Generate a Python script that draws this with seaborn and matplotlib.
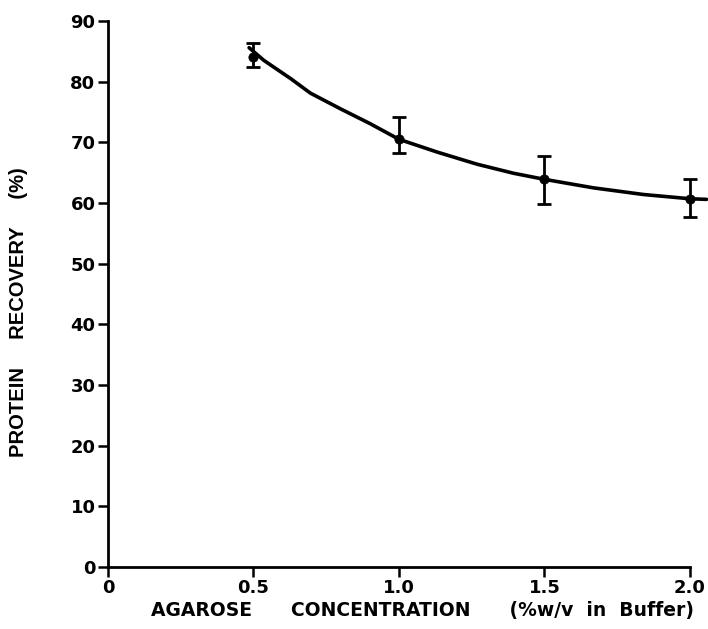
import numpy as np
import pandas as pd
import seaborn as sns
import matplotlib.pyplot as plt

# Data
conc = [0.5, 1.0, 1.5, 2.0]
recovery = [84.1, 70.5, 63.9, 60.7]
err_low = [82.4, 68.2, 59.8, 57.7]
err_high = [86.3, 74.1, 67.7, 63.9]

# Hand-drawn smooth curve
curve_x = [0.485, 0.536, 0.628, 0.696, 0.80, 0.90, 1.0, 1.131, 1.268, 1.394,
           1.5, 1.668, 1.84, 2.0, 2.057]
curve_y = [85.6, 83.5, 80.5, 78.1, 75.5, 73.1, 70.5, 68.4, 66.4, 64.9,
           63.9, 62.5, 61.4, 60.7, 60.6]

x_ticks = [0, 0.5, 1.0, 1.5, 2.0]
x_tick_labels = ['0', '0.5', '1.0', '1.5', '2.0']
y_ticks = [0, 10, 20, 30, 40, 50, 60, 70, 80, 90]

df_pts = pd.DataFrame({'conc': conc, 'recovery': recovery})
df_curve = pd.DataFrame({'x': curve_x, 'y': curve_y})

sns.set_style('ticks', {'axes.edgecolor': 'black', 'xtick.color': 'black',
                        'ytick.color': 'black', 'text.color': 'black',
                        'axes.labelcolor': 'black'})
plt.rcParams['font.family'] = ['DejaVu Sans']

fig = plt.figure(figsize=(7.08, 6.29), dpi=100)
ax = fig.add_axes([0.1525, 0.0986, 0.822, 0.868])

sns.lineplot(data=df_curve, x='x', y='y', ax=ax, color='black', linewidth=2.6,
             sort=False, clip_on=False)
sns.scatterplot(data=df_pts, x='conc', y='recovery', ax=ax, color='black',
                s=45, edgecolor='black', zorder=5, clip_on=False)

yerr = [np.array(recovery) - np.array(err_low), np.array(err_high) - np.array(recovery)]
eb = ax.errorbar(conc, recovery, yerr=yerr, fmt='none', ecolor='black',
                 elinewidth=2, capsize=5, capthick=2, zorder=4)
for part in eb.lines[1] + eb.lines[2]:
    part.set_clip_on(False)

ax.set_xlim(0, 2.0)
ax.set_ylim(0, 90)
ax.set_xticks(x_ticks)
ax.set_xticklabels(x_tick_labels)
ax.set_yticks(y_ticks)
ax.tick_params(axis='both', direction='out', length=7, width=1.8,
               labelsize=13, pad=2, colors='black')
for lab in ax.get_xticklabels() + ax.get_yticklabels():
    lab.set_fontweight('bold')

sns.despine(ax=ax)
ax.spines['left'].set_linewidth(2)
ax.spines['bottom'].set_linewidth(2)

ax.set_xlabel('AGAROSE      CONCENTRATION      (%w/v  in  Buffer)',
              fontsize=13.5, fontweight='bold')
ax.xaxis.set_label_coords(0.541, -0.062)
ax.set_ylabel('PROTEIN     RECOVERY     (%)', fontsize=14.5, fontweight='bold',
              family=['Liberation Sans', 'DejaVu Sans'])
ax.yaxis.set_label_coords(-0.137, 0.467)

fig.savefig('out.png', dpi=100)
